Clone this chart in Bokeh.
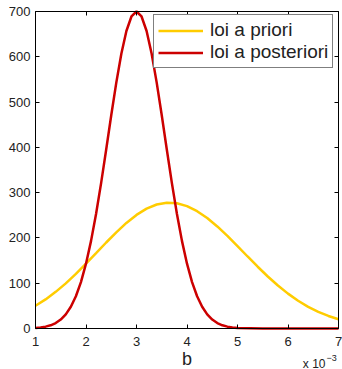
from bokeh.plotting import figure
from bokeh.models import Range1d, LinearAxis, FixedTicker, Label, Legend, LegendItem
from bokeh.embed import file_html
from bokeh.resources import INLINE

# b values in units of 1e-3
prior_b = [1.0, 1.2, 1.4, 1.6, 1.8, 2.0, 2.2, 2.4, 2.6, 2.8, 3.0, 3.2, 3.4, 3.6,
           3.8, 4.0, 4.2, 4.4, 4.6, 4.8, 5.0, 5.2, 5.4, 5.6, 5.8, 6.0, 6.2, 6.4,
           6.6, 6.8, 7.0]
prior_pdf = [50.1, 64.3, 80.9, 99.7, 120.6, 143.2, 166.5, 189.9, 212.4, 233.1,
             250.8, 264.6, 273.8, 277.8, 276.5, 270.2, 259.1, 243.9, 225.4, 204.4,
             182.0, 159.0, 136.4, 114.8, 94.9, 77.0, 61.3, 47.9, 36.7, 27.7, 20.4]

post_b = [1.0, 1.1, 1.2, 1.3, 1.4, 1.5, 1.6, 1.7, 1.8, 1.9, 2.0, 2.1, 2.2, 2.3,
          2.4, 2.5, 2.6, 2.7, 2.8, 2.9, 3.0, 3.1, 3.2, 3.3, 3.4, 3.5, 3.6, 3.7,
          3.8, 3.9, 4.0, 4.1, 4.2, 4.3, 4.4, 4.5, 4.6, 4.7, 4.8, 4.9, 5.0, 5.5,
          6.0, 6.5, 7.0]
post_pdf = [1.2, 2.3, 4.1, 7.1, 12.0, 19.7, 31.2, 47.9, 71.2, 102.5, 143.2, 193.5,
            253.4, 321.6, 395.3, 470.8, 543.0, 606.8, 657.0, 689.0, 700.0, 689.0,
            657.0, 606.8, 543.0, 470.8, 395.3, 321.6, 253.4, 193.5, 143.2, 102.5,
            71.2, 47.9, 31.2, 19.7, 12.0, 7.1, 4.1, 2.3, 1.2, 0.1, 0.0, 0.0, 0.0]

x_ticks = [1, 2, 3, 4, 5, 6, 7]
y_ticks = [0, 100, 200, 300, 400, 500, 600, 700]
legend_labels = ["loi a priori", "loi a posteriori"]
x_label = "b"
x_scale_text = "x 10"
x_scale_exp = "\u22123"

FONT = "Liberation Sans"
YELLOW = "#FFCC00"
RED = "#CC0000"
TXT = "#222222"

W, H = 342, 369
# axes box in canvas pixels (left, right, top, bottom)
BL, BR, BT, BB = 35, 338, 11, 328
X0, X1 = x_ticks[0], x_ticks[-1]
Y0, Y1 = y_ticks[0], y_ticks[-1]
xs = (X1 - X0) / (BR - BL)   # data units per pixel
ys = (Y1 - Y0) / (BB - BT)

# the frame covers the whole canvas; the box axes are pinned at the data limits
p = figure(width=W, height=H, output_backend="svg", toolbar_location=None,
           x_range=Range1d(X0 - BL * xs, X1 + (W - BR) * xs),
           y_range=Range1d(Y0 - (H - BB) * ys, Y1 + BT * ys),
           min_border=0, x_axis_location=None, y_axis_location=None)
p.grid.visible = False
p.outline_line_color = None
p.background_fill_color = "white"
p.border_fill_color = "white"

def style_axis(ax, ticks, show_labels):
    ax.ticker = FixedTicker(ticks=ticks)
    ax.major_tick_in = 4
    ax.major_tick_out = 0
    ax.minor_tick_line_color = None
    ax.axis_line_color = "black"
    ax.axis_line_width = 1
    ax.major_tick_line_color = "black"
    if show_labels:
        ax.major_label_text_font = FONT
        ax.major_label_text_font_size = "13px"
        ax.major_label_text_color = TXT
    else:
        ax.major_label_text_font_size = "0px"
        ax.major_label_text_color = None
        ax.major_label_standoff = 0

bx = LinearAxis(fixed_location=Y0, bounds=(X0, X1))
style_axis(bx, x_ticks, True)
bx.major_label_standoff = 8
p.add_layout(bx, "below")

tx = LinearAxis(fixed_location=Y1, bounds=(X0, X1))
style_axis(tx, x_ticks, False)
p.add_layout(tx, "above")

lx = LinearAxis(fixed_location=X0, bounds=(Y0, Y1))
style_axis(lx, y_ticks, True)
lx.major_label_standoff = 5
p.add_layout(lx, "left")

rx = LinearAxis(fixed_location=X1, bounds=(Y0, Y1))
style_axis(rx, y_ticks, False)
p.add_layout(rx, "right")

r1 = p.line(prior_b, prior_pdf, line_color=YELLOW, line_width=2.5)
r2 = p.line(post_b, post_pdf, line_color=RED, line_width=2.5)

legend = Legend(items=[LegendItem(label=legend_labels[0], renderers=[r1]),
                       LegendItem(label=legend_labels[1], renderers=[r2])],
                location=(153, H - 68))
legend.padding = 4
legend.spacing = 0
legend.glyph_width = 45
legend.glyph_height = 21
legend.label_height = 21
legend.label_standoff = 7
legend.label_text_font = FONT
legend.label_text_font_size = "19px"
legend.label_text_color = TXT
legend.border_line_color = "black"
legend.border_line_width = 1
legend.background_fill_color = "white"
legend.background_fill_alpha = 1.0
p.add_layout(legend)

p.add_layout(Label(x=(X0 + X1) / 2, y=Y0 - 30 * ys, text=x_label,
                   text_align="center", text_baseline="middle",
                   text_font=FONT, text_font_size="18px", text_color=TXT))
p.add_layout(Label(x=X1 - 13 * xs, y=Y0 - 35 * ys, text=x_scale_text,
                   text_align="right", text_baseline="middle",
                   text_font=FONT, text_font_size="12px", text_color=TXT))
p.add_layout(Label(x=X1 - 12 * xs, y=Y0 - 29 * ys, text=x_scale_exp,
                   text_align="left", text_baseline="middle",
                   text_font=FONT, text_font_size="9px", text_color=TXT))

open("out.html", "w").write(file_html(p, INLINE))
